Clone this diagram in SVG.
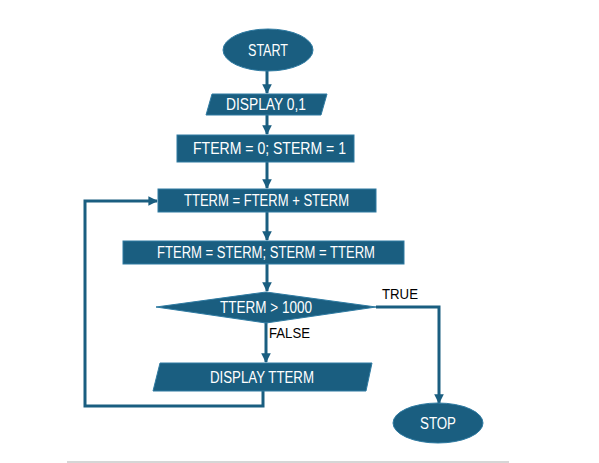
<svg xmlns="http://www.w3.org/2000/svg" width="599" height="463" viewBox="0 0 599 463">
<style>
.node{fill:#1a5e80;stroke:#2f7ba2;stroke-width:1}
.lbl{fill:#ffffff;font-family:"Liberation Sans",Arial,sans-serif;font-size:16px;text-anchor:middle}
.edge{fill:none;stroke:#1a5e80;stroke-width:3}
.elbl{fill:#000000;font-family:"Liberation Sans",Arial,sans-serif;font-size:15px}
</style>
<defs>
<marker id="ah" viewBox="0 0 10 10" refX="9" refY="5" markerWidth="3.2" markerHeight="3.2" orient="auto" markerUnits="strokeWidth">
<path d="M0,0 L10,5 L0,10 Z" fill="#1a5e80"/>
</marker>
</defs>
<rect width="599" height="463" fill="#ffffff"/>
<line x1="67" y1="462" x2="509" y2="462" stroke="#c8c8c8" stroke-width="1.5"/>
<g id="connectors">
<path class="edge" d="M267,71 L267,93" marker-end="url(#ah)"/>
<path class="edge" d="M267,115 L267,134" marker-end="url(#ah)"/>
<path class="edge" d="M267,162 L267,188" marker-end="url(#ah)"/>
<path class="edge" d="M267,212 L267,240" marker-end="url(#ah)"/>
<path class="edge" d="M267,264 L267,291" marker-end="url(#ah)"/>
<path class="edge" d="M266,323 L266,362" marker-end="url(#ah)"/>
<path class="edge" d="M376,307 L439,307 L439,403" marker-end="url(#ah)"/>
<path class="edge" d="M263,391 L263,406 L85,406 L85,201 L157,201" marker-end="url(#ah)"/>
<text class="elbl" x="382" y="299" textLength="36" lengthAdjust="spacingAndGlyphs">TRUE</text>
<text class="elbl" x="269" y="338" textLength="41" lengthAdjust="spacingAndGlyphs">FALSE</text>
</g>
<g id="start">
<ellipse class="node" cx="268" cy="50" rx="45" ry="21"/>
<text class="lbl" x="268" y="55.5" textLength="40" lengthAdjust="spacingAndGlyphs">START</text>
</g>
<g id="display01">
<polygon class="node" points="212,94 327,94 321,115 206,115"/>
<text class="lbl" x="266" y="110" textLength="80" lengthAdjust="spacingAndGlyphs">DISPLAY 0,1</text>
</g>
<g id="init">
<rect class="node" x="177" y="135" width="177" height="27"/>
<text class="lbl" x="269.5" y="154" textLength="153" lengthAdjust="spacingAndGlyphs">FTERM = 0; STERM = 1</text>
</g>
<g id="sum">
<rect class="node" x="158" y="189" width="218" height="23"/>
<text class="lbl" x="266.5" y="206" textLength="165" lengthAdjust="spacingAndGlyphs">TTERM = FTERM + STERM</text>
</g>
<g id="shift">
<rect class="node" x="123" y="241" width="281" height="23"/>
<text class="lbl" x="266" y="258" textLength="218" lengthAdjust="spacingAndGlyphs">FTERM = STERM; STERM = TTERM</text>
</g>
<g id="decision">
<polygon class="node" points="266,292 376,307 266,323 156,307"/>
<text class="lbl" x="266" y="312.5" textLength="92" lengthAdjust="spacingAndGlyphs">TTERM &gt; 1000</text>
</g>
<g id="displayt">
<polygon class="node" points="160,363 372,363 366,391 153,391"/>
<text class="lbl" x="262" y="382.5" textLength="104" lengthAdjust="spacingAndGlyphs">DISPLAY TTERM</text>
</g>
<g id="stop">
<ellipse class="node" cx="438" cy="423" rx="45" ry="20"/>
<text class="lbl" x="438" y="428.5" textLength="36" lengthAdjust="spacingAndGlyphs">STOP</text>
</g>
</svg>
